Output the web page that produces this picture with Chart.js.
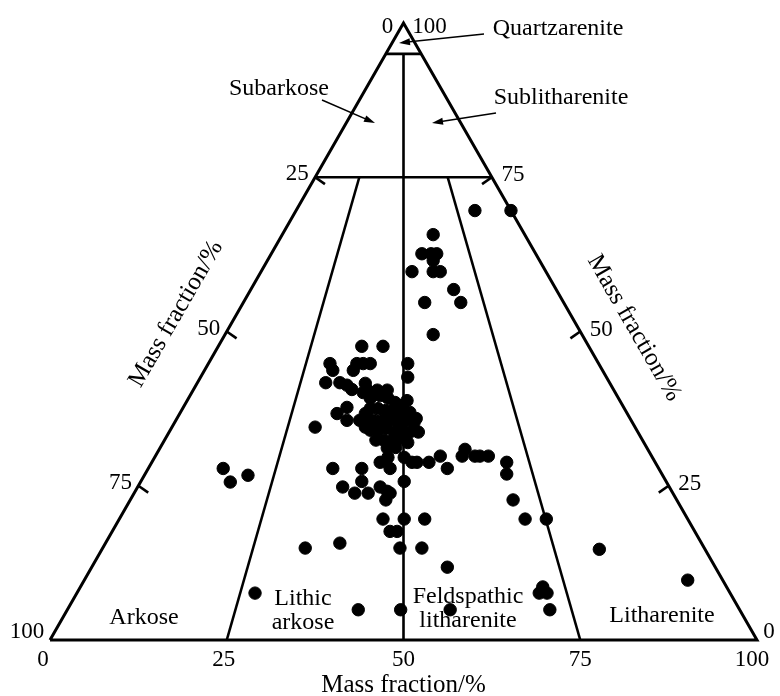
<!DOCTYPE html>
<html>
<head>
<meta charset="utf-8">
<script src="https://cdn.jsdelivr.net/npm/chart.js@4"></script>
<style>
  body { margin: 0; background: #fff; }
  canvas { display: block; }
</style>
</head>
<body>
<canvas id="ternary" width="780" height="696"></canvas>
<script>
// sample positions: x = position along the base (0-100), q = quartz pole (height, 0-100)
const sampleX = [
  60.1, 65.2, 54.2, 52.6, 53.9, 54.7, 54.2, 51.2, 54.2, 55.2,
  57.1, 53.0, 58.1, 54.2, 44.1, 47.1, 50.6, 50.6, 39.6, 40.0,
  43.4, 44.3, 45.3, 42.9, 39.0, 41.0, 42.0, 42.7, 44.6, 44.8,
  46.3, 47.7, 42.0, 40.6, 42.0, 37.5, 44.6, 52.1, 47.7, 47.8,
  50.1, 51.2, 51.9, 53.6, 55.2, 56.2, 58.3, 58.7, 60.1, 60.8,
  62.0, 64.6, 64.6, 65.5, 67.2, 70.2, 46.7, 48.1, 24.5, 25.5,
  28.0, 40.0, 44.1, 44.1, 41.4, 43.1, 45.0, 46.7, 47.7, 48.1,
  47.5, 50.1, 47.1, 50.1, 53.0, 48.1, 49.1, 41.0, 36.1, 49.5,
  52.6, 56.2, 77.7, 90.2, 69.7, 69.2, 70.3, 70.7, 49.6, 56.6,
  43.6, 29.0,
  44.3, 45.3, 46.7, 47.8, 48.8, 49.8, 45.3, 46.4, 47.5, 48.7,
  49.8, 50.9, 44.7, 45.8, 47.0, 48.1, 49.2, 50.4, 51.5, 45.3,
  46.4, 47.5, 48.7, 49.8, 50.9, 46.1, 47.2, 48.4, 49.5, 50.6,
  48.9, 43.8, 51.8, 50.5, 44.6
];
const sampleQ = [
  69.6, 69.6, 65.7, 62.6, 62.6, 62.6, 61.5, 59.7, 59.7, 59.7,
  56.8, 54.7, 54.7, 49.5, 47.6, 47.6, 44.8, 42.6, 44.8, 43.7,
  44.8, 44.8, 44.8, 43.7, 41.7, 41.7, 41.3, 40.6, 41.6, 40.6,
  40.5, 40.5, 37.7, 36.7, 35.6, 34.5, 34.5, 33.7, 31.1, 29.6,
  29.6, 28.8, 28.8, 28.8, 29.8, 27.8, 29.8, 30.9, 29.8, 29.8,
  29.8, 28.8, 26.9, 22.7, 19.6, 19.6, 28.8, 27.8, 27.8, 25.6,
  26.7, 27.8, 27.8, 25.7, 24.8, 23.8, 23.8, 24.8, 24.1, 23.8,
  22.7, 25.7, 19.6, 19.6, 19.6, 17.6, 17.6, 15.7, 14.9, 14.9,
  14.9, 11.8, 14.7, 9.7, 8.6, 7.6, 7.6, 4.9, 4.9, 4.9,
  4.9, 7.6,
  40.1, 39.2, 39.6, 39.2, 38.5, 38.0, 37.5, 37.5, 37.2, 36.9,
  36.6, 36.9, 35.9, 35.6, 35.6, 35.6, 35.3, 35.6, 35.3, 34.0,
  34.0, 34.3, 33.7, 34.0, 33.7, 32.4, 32.4, 32.4, 32.7, 32.0,
  31.2, 35.6, 35.9, 38.8, 36.7
];

// Folk classification limits
const quartzLimits = [95, 75];
const baseSplits = [25, 50, 75];
const baseTicks = [0, 25, 50, 75, 100];
const leftTicks = [25, 50, 75];
const rightTicks = [75, 50, 25];
const axisTitle = "Mass fraction/%";

const edgeLine = (pts, w) => ({
  type: "scatter",
  data: pts.map(p => ({ x: p[0], y: p[1] })),
  showLine: true,
  borderColor: "#000",
  borderWidth: w || 2.6,
  pointRadius: 0,
  clip: false
});

// a radiating boundary from the apex down to base position s, starting at height qStart
function splitLine(s, qStart) {
  return [[s + (50 - s) * qStart / 100, qStart], [s, 0]];
}

const datasets = [
  {
    type: "scatter",
    data: sampleX.map((x, i) => ({ x: x, y: sampleQ[i] })),
    backgroundColor: "#000",
    borderColor: "#000",
    pointRadius: 6.2,
    pointHoverRadius: 6.2,
    clip: false
  },
  edgeLine([[0, 0], [50, 100], [100, 0], [0, 0]], 3)
];
quartzLimits.forEach(q => datasets.push(edgeLine([[50 - (100 - q) / 2, q], [50 + (100 - q) / 2, q]])));
datasets.push(edgeLine(splitLine(baseSplits[1], quartzLimits[0])));
datasets.push(edgeLine(splitLine(baseSplits[0], quartzLimits[1])));
datasets.push(edgeLine(splitLine(baseSplits[2], quartzLimits[1])));

function text(ctx, s, x, y, size, rot) {
  ctx.save();
  ctx.translate(x, y);
  if (rot) ctx.rotate(rot);
  ctx.font = size + 'px "Liberation Serif", "Times New Roman", serif';
  ctx.fillStyle = "#000";
  ctx.textAlign = "center";
  ctx.textBaseline = "middle";
  ctx.fillText(s, 0, 0);
  ctx.restore();
}

function arrow(ctx, x1, y1, x2, y2) {
  const a = Math.atan2(y2 - y1, x2 - x1);
  ctx.save();
  ctx.strokeStyle = "#000";
  ctx.fillStyle = "#000";
  ctx.lineWidth = 1.5;
  ctx.beginPath();
  ctx.moveTo(x1, y1);
  ctx.lineTo(x2 - 6 * Math.cos(a), y2 - 6 * Math.sin(a));
  ctx.stroke();
  ctx.beginPath();
  ctx.moveTo(x2, y2);
  ctx.lineTo(x2 - 11 * Math.cos(a) + 3.5 * Math.sin(a), y2 - 11 * Math.sin(a) - 3.5 * Math.cos(a));
  ctx.lineTo(x2 - 11 * Math.cos(a) - 3.5 * Math.sin(a), y2 - 11 * Math.sin(a) + 3.5 * Math.cos(a));
  ctx.closePath();
  ctx.fill();
  ctx.restore();
}

const ternaryDecor = {
  id: "ternaryDecor",
  afterDatasetsDraw(chart) {
    const ctx = chart.ctx;
    const xs = chart.scales.x, ys = chart.scales.y;
    const px = v => xs.getPixelForValue(v);
    const py = v => ys.getPixelForValue(v);
    const tickLen = 12;

    ctx.save();
    ctx.strokeStyle = "#000";
    ctx.lineWidth = 2.6;
    // left edge ticks (0 at apex, 100 at lower left)
    leftTicks.forEach(v => {
      const x = px((100 - v) / 2), y = py(100 - v);
      ctx.beginPath();
      ctx.moveTo(x, y);
      ctx.lineTo(x + tickLen * 0.82, y + tickLen * 0.57);
      ctx.stroke();
      text(ctx, String(v), x - 18, y - 3, 23);
    });
    // right edge ticks (100 at apex, 0 at lower right)
    rightTicks.forEach(v => {
      const x = px(100 - v / 2), y = py(v);
      ctx.beginPath();
      ctx.moveTo(x, y);
      ctx.lineTo(x - tickLen * 0.82, y + tickLen * 0.57);
      ctx.stroke();
      text(ctx, String(v), x + 21, y - 2, 23);
    });
    ctx.restore();

    // base tick labels
    const base = py(0);
    baseTicks.forEach(v => {
      let dx = 0;
      if (v === 0) dx = -7;
      if (v === 100) dx = -5;
      if (v === 25) dx = -3;
      text(ctx, String(v), px(v) + dx, base + 20, 23);
    });
    text(ctx, axisTitle, px(50), base + 45, 25);

    // corner labels
    const ax = px(50), ay = py(100);
    text(ctx, "0", ax - 16, ay + 4, 23);
    text(ctx, "100", ax + 26, ay + 4, 23);
    text(ctx, "100", px(0) - 23, base - 8, 23);
    text(ctx, "0", px(100) + 12, base - 8, 23);

    // side titles
    text(ctx, axisTitle, 176, 314, 25, -Math.PI / 3);
    text(ctx, axisTitle, 634, 328, 25, Math.PI / 3);

    // field names
    text(ctx, "Quartzarenite", 558, 29, 24);
    arrow(ctx, 484, 34, 399, 43);
    text(ctx, "Subarkose", 279, 89, 24);
    arrow(ctx, 322, 100, 375, 123);
    text(ctx, "Sublitharenite", 561, 98, 24);
    arrow(ctx, 496, 113, 432, 123);
    text(ctx, "Arkose", 144, 618, 24);
    text(ctx, "Lithic", 303, 599, 24);
    text(ctx, "arkose", 303, 623, 24);
    text(ctx, "Feldspathic", 468, 597, 24);
    text(ctx, "litharenite", 468, 621, 24);
    text(ctx, "Litharenite", 662, 616, 24);
  }
};

new Chart(document.getElementById("ternary"), {
  type: "scatter",
  data: { datasets: datasets },
  options: {
    responsive: false,
    animation: false,
    events: [],
    layout: { padding: { left: 50, right: 23, top: 23, bottom: 56 } },
    plugins: { legend: { display: false }, tooltip: { enabled: false } },
    scales: {
      x: { type: "linear", min: 0, max: 100, display: false },
      y: { type: "linear", min: 0, max: 100, display: false }
    }
  },
  plugins: [ternaryDecor]
});
</script>
</body>
</html>
